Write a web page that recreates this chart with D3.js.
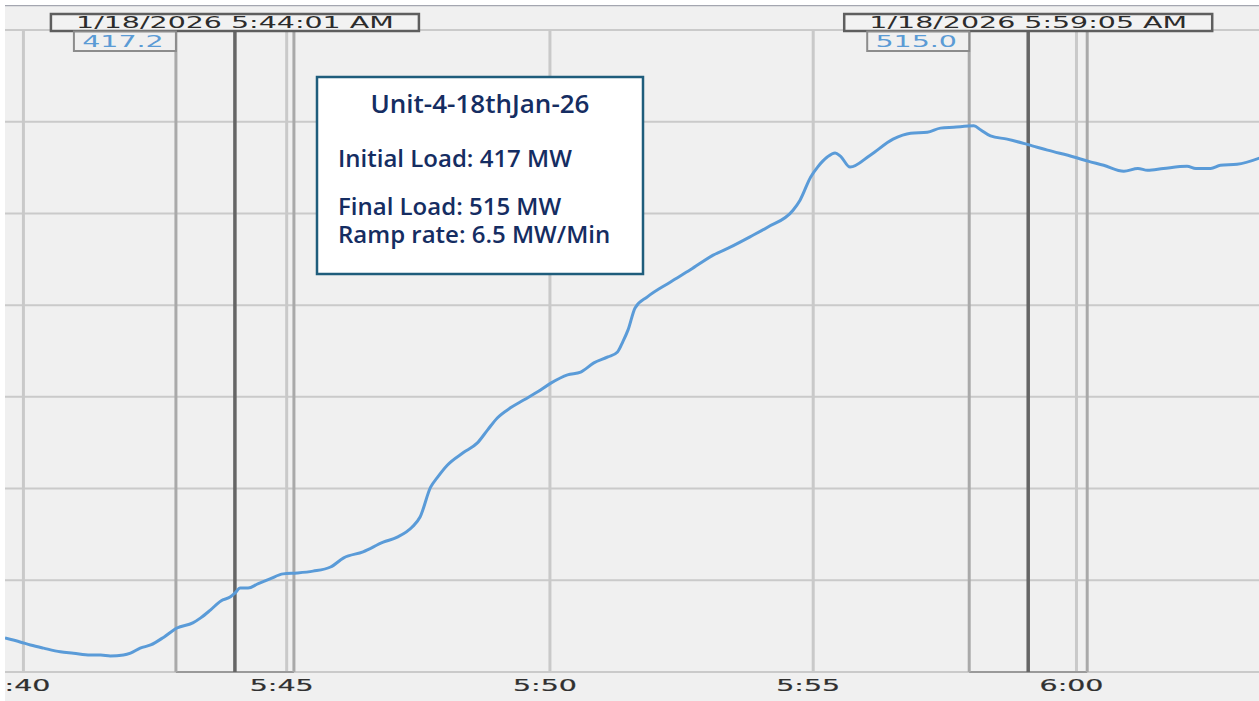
<!DOCTYPE html>
<html>
<head>
<meta charset="utf-8">
<script src="https://cdn.jsdelivr.net/npm/d3@7"></script>
<style>
  body { margin: 0; background: #fff; }
  svg { display: block; }
</style>
</head>
<body>
<div id="chart"></div>
<script>
// load trend, Unit-4, 18 Jan 2026
const times = ["05:39:39","05:39:57","05:40:08","05:40:23","05:40:42","05:40:57","05:41:16","05:41:28","05:41:39","05:41:54",
  "05:42:02","05:42:13","05:42:25","05:42:40","05:42:55","05:43:13","05:43:22","05:43:33","05:43:45","05:43:56",
  "05:44:01","05:44:07","05:44:16","05:44:27","05:44:41","05:44:56","05:45:12","05:45:30","05:45:50","05:46:05",
  "05:46:27","05:46:50","05:47:06","05:47:23","05:47:32","05:47:44","05:47:52","05:48:03","05:48:21","05:48:37",
  "05:48:49","05:49:00","05:49:15","05:49:30","05:49:46","05:50:01","05:50:20","05:50:35","05:50:50","05:51:06",
  "05:51:17","05:51:23","05:51:29","05:51:37","05:51:51","05:52:17","05:52:40","05:53:06","05:53:26","05:53:48",
  "05:54:08","05:54:37","05:54:45","05:54:57","05:55:05","05:55:16","05:55:25","05:55:31","05:55:42","05:56:05",
  "05:56:31","05:56:51","05:57:10","05:57:25","05:57:40","05:58:03","05:58:11","05:58:22","05:58:41","05:59:05",
  "05:59:27","05:59:57","06:00:13","06:00:31","06:00:54","06:01:10","06:01:21","06:01:39","06:02:06","06:02:16",
  "06:02:33","06:02:44","06:03:03","06:03:29"];
const mw = [407.4,406.5,405.9,405.2,404.4,404.1,403.7,403.7,403.5,403.7,
  404.1,405.2,405.9,407.6,409.6,410.7,411.8,413.5,415.5,416.4,
  417.2,418.3,418.3,419.2,420.3,421.4,421.6,422.0,422.9,424.9,
  426.2,428.3,429.4,431.6,433.8,440.3,442.5,445.1,447.8,449.9,
  452.8,455.4,457.6,459.3,461.1,463.0,464.8,465.4,467.4,468.7,
  469.8,472.0,474.6,479.4,481.8,485.0,487.7,490.9,492.7,494.9,
  497.0,500.7,502.9,507.9,510.1,512.3,513.2,512.5,510.1,512.7,
  516.2,517.5,517.7,518.6,518.8,519.1,518.2,516.9,516.2,515.0,
  513.8,512.3,511.4,510.5,509.2,509.8,509.4,509.8,510.3,509.8,
  509.8,510.5,510.7,512.1];

const cursorTimes = ["05:44:01","05:59:05"];
const cursorLabels = ["1/18/2026 5:44:01 AM","1/18/2026 5:59:05 AM"];
const cursorValues = [417.2, 515.0];

const yTicks = [400,420,440,460,480,500,520,540];

const boxTitle = "Unit-4-18thJan-26";
const boxLines = ["Initial Load: 417 MW","Final Load: 515 MW","Ramp rate: 6.5 MW/Min"];

const W = 1259, H = 701;
const parse = d3.timeParse("%H:%M:%S");
const data = times.map((t,i) => ({t: parse(t), v: mw[i]}));

const svg = d3.select("#chart").append("svg")
  .attr("width", W).attr("height", H);

svg.append("clipPath").attr("id","panel")
  .append("rect").attr("x",5).attr("y",5).attr("width",W-5).attr("height",H-5);

const g = svg.append("g").attr("clip-path","url(#panel)");

g.append("rect").attr("x",5).attr("y",5).attr("width",W-5).attr("height",H-5)
  .attr("fill","#f0f0f0");
g.append("line").attr("x1",5).attr("x2",W).attr("y1",5.5).attr("y2",5.5)
  .attr("stroke","#a4a6b0").attr("stroke-width",1.5);

const x = d3.scaleTime()
  .domain([parse("05:39:39"), parse("06:03:28")])
  .range([5, W]);
const y = d3.scaleLinear().domain([400,540]).range([672,30]);

const yTop = y(540), yBottom = y(400);
const stretch = 1.78;

// horizontal grid
g.selectAll(".hgrid").data(yTicks).join("line")
  .attr("x1",5).attr("x2",W)
  .attr("y1",d => y(d)).attr("y2",d => y(d))
  .attr("stroke","#cacaca").attr("stroke-width",2);

// vertical grid
const xTicks = x.ticks(d3.timeMinute.every(5));
g.selectAll(".vgrid").data(xTicks).join("line")
  .attr("x1",d => x(d)).attr("x2",d => x(d))
  .attr("y1",yTop).attr("y2",yBottom)
  .attr("stroke","#c9c9c9").attr("stroke-width",3);

// tick labels (first one is cut by the left edge, as on the source screen)
const fmt = d3.timeFormat("%-H:%M");
g.selectAll(".tlab").data(xTicks).join("text")
  .attr("transform",d => `translate(${x(d)-5},691) scale(${stretch},1)`)
  .attr("text-anchor","middle")
  .attr("font-family","DejaVu Sans")
  .attr("font-size",16)
  .attr("fill","#303030")
  .attr("stroke","#303030").attr("stroke-width",0.2)
  .text(d => fmt(d));

// cursors
const cur = cursorTimes.map((t,i) => ({t: parse(t), label: cursorLabels[i], v: cursorValues[i]}));
const half = 59;
cur.forEach(c => {
  const cx = x(c.t);
  g.append("line").attr("x1",cx-half).attr("x2",cx+half).attr("y1",yBottom).attr("y2",yBottom)
    .attr("stroke","#9a9a9a").attr("stroke-width",2);
  [cx-half, cx+half].forEach(bx => {
    g.append("line").attr("x1",bx).attr("x2",bx).attr("y1",yTop).attr("y2",yBottom)
      .attr("stroke","#a9a9a9").attr("stroke-width",3);
  });
  g.append("line").attr("x1",cx).attr("x2",cx).attr("y1",yTop).attr("y2",yBottom)
    .attr("stroke","#656565").attr("stroke-width",3.5);
});

// trend line
const line = d3.line()
  .curve(d3.curveMonotoneX)
  .x(d => x(d.t))
  .y(d => y(d.v));
g.append("path").datum(data)
  .attr("d", line)
  .attr("fill","none")
  .attr("stroke","#5a9bd8")
  .attr("stroke-width",3)
  .attr("stroke-linejoin","round");

// cursor labels
cur.forEach(c => {
  const cx = x(c.t);
  g.append("rect").attr("x",cx-184).attr("y",14).attr("width",368).attr("height",17)
    .attr("fill","#f2f2f2").attr("stroke","#5e5e5e").attr("stroke-width",2.5);
  g.append("text")
    .attr("transform",`translate(${cx},28) scale(${stretch},1)`)
    .attr("text-anchor","middle")
    .attr("font-family","DejaVu Sans").attr("font-size",16)
    .attr("fill","#2c2c2c")
    .text(c.label);
  g.append("rect").attr("x",cx-161).attr("y",31.5).attr("width",102).attr("height",19.5)
    .attr("fill","#f0f0f0").attr("stroke","#8c8c8c").attr("stroke-width",2);
  g.append("text")
    .attr("transform",`translate(${cx-112},47) scale(${stretch},1)`)
    .attr("text-anchor","middle")
    .attr("font-family","DejaVu Sans").attr("font-size",16)
    .attr("fill","#5b9bd5")
    .text(c.v.toFixed(1));
});

// info box
const box = svg.append("g");
box.append("rect").attr("x",317).attr("y",77).attr("width",326).attr("height",197)
  .attr("fill","#fff").attr("stroke","#1f5d7c").attr("stroke-width",2.5);
box.append("text").attr("x",480).attr("y",113)
  .attr("text-anchor","middle")
  .attr("font-family","Open Sans").attr("font-weight",600).attr("font-size",26)
  .attr("fill","#152d62")
  .text(boxTitle);
const lineY = [167, 215, 243];
box.selectAll(".bl").data(boxLines).join("text")
  .attr("x",338).attr("y",(d,i) => lineY[i])
  .attr("font-family","Open Sans").attr("font-weight",600).attr("font-size",24)
  .attr("fill","#152d62")
  .text(d => d);
</script>
</body>
</html>
